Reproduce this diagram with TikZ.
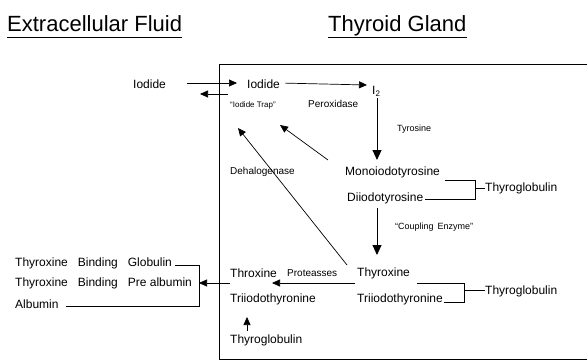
\documentclass[tikz,border=0pt]{standalone}
\usepackage{fontspec}
\setmainfont{Liberation Sans}
\usetikzlibrary{arrows.meta}
\newcommand{\wsp}{\hspace{10pt}}
\begin{document}
\begin{tikzpicture}[x=1pt,y=-1pt,
  lab/.style={font=\fontsize{12}{14}\selectfont, inner sep=0pt, anchor=west},
  sm/.style={font=\fontsize{10}{12}\selectfont, inner sep=0pt, anchor=west},
  xs/.style={font=\fontsize{9}{11}\selectfont, inner sep=0pt, anchor=west},
  ttl/.style={font=\fontsize{22}{26}\selectfont, inner sep=0pt, anchor=base west},
  ln/.style={line width=0.7pt},
  arr/.style={ln, -{Triangle[length=8pt,width=7pt]}},
  bigarr/.style={line width=0.9pt, -{Triangle[length=10pt,width=9pt]}}]
\useasboundingbox (0,0) rectangle (587,361);

% titles
\node[ttl] (ecf) at (7,32) {Extracellular Fluid};
\node[ttl] (tg) at (328,32) {Thyroid Gland};
\draw[line width=1.1pt] ([yshift=-5.5pt]ecf.base west) -- ([yshift=-5.5pt]ecf.base east);
\draw[line width=1.1pt] ([yshift=-5.5pt]tg.base west) -- ([yshift=-5.5pt]tg.base east);

% gland box
\coordinate (bl) at (219,359.5);
\coordinate (tl) at (219,65);
\coordinate (tr) at (587,65);
\coordinate (br) at (587,359.5);
\draw[line width=1pt] (tr) -- (tl) -- (bl) -- (br);

% labels
\node[lab] (iodO) at (133,84) {Iodide};
\node[lab] (iodI) at (247,84) {Iodide};
\node[lab] (i2) at (372,91) {I\textsubscript{2}};
\node[font=\fontsize{8}{10}\selectfont, inner sep=0pt, anchor=west] (trap) at (230,105) {``Iodide Trap''};
\node[sm] (perox) at (308,104) {Peroxidase};
\node[xs] (tyros) at (397,129) {Tyrosine};
\node[lab] (mit) at (345,172) {Monoiodotyrosine};
\node[lab] (dit) at (347,198) {Diiodotyrosine};
\node[lab] (tg1) at (485,188) {Thyroglobulin};
\node[sm] (dehal) at (230,172) {Dehalogenase};
\node[xs] (coup) at (395,227) {``Coupling\hspace{4pt}Enzyme''};
\node[lab] (t4) at (357,273) {Thyroxine};
\node[lab] (t3) at (357,299) {Triiodothyronine};
\node[lab] (tg2) at (485,291) {Thyroglobulin};
\node[lab] (throx) at (230,273) {Throxine};
\node[sm] (prot) at (287,273) {Proteasses};
\node[lab] (t3b) at (230,299) {Triiodothyronine};
\node[lab] (tg3) at (230,340) {Thyroglobulin};
\node[lab] (tbg) at (15,263) {Thyroxine\wsp Binding\wsp Globulin};
\node[lab] (tbpa) at (15,283) {Thyroxine\wsp Binding\wsp Pre albumin};
\node[lab] (alb) at (15,304) {Albumin};

% iodide transport
\draw[arr, shorten <=21pt, shorten >=10pt] ([yshift=1pt]iodO.east) -- ([yshift=1pt]iodI.west);
\coordinate (backA) at (228,94);
\coordinate (backB) at (200,94);
\draw[arr] (backA) -- (backB);
\coordinate (i2in) at (367,85);
\draw[arr, shorten <=5pt] ([yshift=1pt]iodI.east) -- (i2in);

% vertical pathway
\coordinate (v1) at (377,98);
\coordinate (v2) at (377,160);
\draw[bigarr] (v1) -- (v2);
\coordinate (v3) at (377,208);
\coordinate (v4) at (377,255);
\draw[bigarr] (v3) -- (v4);

% brackets to thyroglobulin (upper)
\coordinate (ua) at (445,180);
\coordinate (ub) at (475,180);
\coordinate (uc) at (475,199);
\coordinate (ud) at (425,199);
\draw[ln] (ua) -- (ub) -- (uc) -- (ud);
\draw[ln] (ub |- tg1.west) -- (tg1.west);

% brackets to thyroglobulin (lower)
\coordinate (la) at (417,283);
\coordinate (lb) at (464,283);
\coordinate (lc) at (464,302);
\coordinate (ld) at (444,302);
\draw[ln] (la) -- (lb) -- (lc) -- (ld);
\draw[ln] ([yshift=1pt]lb |- tg2.west) -- ([yshift=1pt]tg2.west);

% diagonal arrows to iodide trap
\coordinate (dA) at (328,160);
\coordinate (dB) at (280,125);
\draw[arr] (dA) -- (dB);
\coordinate (dC) at (347,265);
\coordinate (dD) at (238,128);
\draw[arr] (dC) -- (dD);

% proteases
\coordinate (pA) at (355,283);
\coordinate (pB) at (272,283);
\draw[arr] (pA) -- (pB);

% release to plasma
\coordinate (rA) at (230,283);
\coordinate (rB) at (199,283);
\draw[arr] (rA) -- (rB);

% binding proteins bracket
\coordinate (ba) at (175,265);
\coordinate (bb) at (199,265);
\coordinate (bc) at (199,306);
\coordinate (bd) at (66,306);
\draw[ln] (ba) -- (bb) -- (bc) -- (bd);

% thyroglobulin up
\coordinate (uA) at (247,331);
\coordinate (uB) at (247,317);
\draw[arr] (uA) -- (uB);
\end{tikzpicture}
\end{document}
